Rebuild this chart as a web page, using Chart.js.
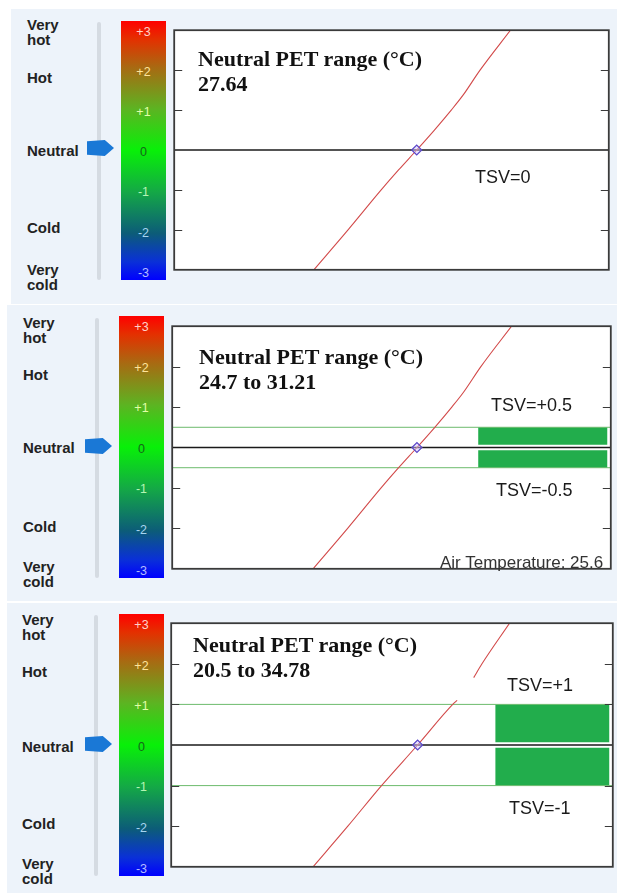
<!DOCTYPE html>
<html>
<head>
<meta charset="utf-8">
<script src="https://cdn.jsdelivr.net/npm/chart.js@4.4.1/dist/chart.umd.min.js"></script>
<style>
  body { margin: 0; width: 617px; height: 893px; background: #fff; position: relative; overflow: hidden;
         font-family: "Liberation Sans", Arial, sans-serif; }
  .panel { position: absolute; background: #edf3fa; }
  .slider { position: absolute; width: 4px; background: #d5dbe2; border-radius: 2px; }
  .arrow { position: absolute; width: 27px; height: 16px; background: #1a78d6;
           clip-path: polygon(0 8%, 66% 0, 100% 50%, 66% 100%, 0 92%); }
  .bar { position: absolute;
         background: linear-gradient(to bottom, #ff0000 0%, #e43000 7%, #a86a12 18%, #5cb422 34%,
                     #08f008 50%, #14a846 66%, #0c5c78 82%, #0a30d8 93%, #0000ff 100%); }
  .txt { position: absolute; white-space: pre; }
  canvas { position: absolute; }
</style>
</head>
<body>
<script>
// TSV scale shown on the colour bar
const scaleTicks = ["+3", "+2", "+1", "0", "-1", "-2", "-3"];
const sensation = ["Very\nhot", "Hot", "Neutral", "Cold", "Very\ncold"];

// PET (°C) vs thermal sensation vote curve
const curvePet = [8.7, 15.0, 21.1, 24.3, 27.64, 30.9, 34.0, 36.1, 39.3, 44.9];
const curveTsv = [-3, -2, -1, -0.5, 0, 0.5, 1, 1.36, 2, 3];
// third panel: same curve but with a break in the line
const curve3Pet = [8.7, 15.0, 21.1, 27.64, 34.0, 34.8, 36.5, 37.8, 39.3, 44.3];
const curve3Tsv = [-3, -2, -1, 0, 1, 1.1, null, 1.66, 2, 3];

// one entry per panel
const bandTsv = [0, 0.5, 1];
const neutralPet = [27.64, 27.64, 27.64];
const rangeLow = [27.64, 24.7, 20.5];
const rangeHigh = [27.64, 31.21, 34.78];
const airTemperature = [null, 25.6, null];

const xMin = -17, xMax = 63;
const frameTicks = [2, 1, -1, -2];
const tickColors = ["#ffd2c8", "#ffe49a", "#e2ffa8", "#16661a", "#b4f5b4", "#a6d4f0", "#b4bcff"];

const panels = [
  { bg: [11, 9, 606, 295], frame: [171, 27, 441, 246], bar: [121, 21, 45, 259], slider: [97, 22, 258],
    arrow: [87, 140], labelX: 27, labelBase: [30, 83, 156, 233, 275],
    title: [198, 67, 92], tsvText: [[475, 183]], blockX: null },
  { bg: [7, 305, 610, 296], frame: [169, 323, 445, 249], bar: [119, 316, 45, 262], slider: [95, 318, 260],
    arrow: [85, 438], labelX: 23, labelBase: [328, 380, 453, 532, 572],
    title: [199, 365, 390], tsvText: [[491, 411], [496, 496]], air: [440, 568], blockX: [38.8, 62.4] },
  { bg: [7, 603, 610, 290], frame: [168, 620, 448, 250], bar: [119, 614, 45, 262], slider: [94, 615, 261],
    arrow: [85, 736], labelX: 22, labelBase: [625, 677, 752, 829, 869],
    title: [193, 653, 678], tsvText: [[507, 691], [509, 814]], blockX: [41.7, 62.4] }
];

function addBox(cls, x, y, w, h) {
  const d = document.createElement("div");
  d.className = cls;
  d.style.left = x + "px";
  d.style.top = y + "px";
  if (w != null) d.style.width = w + "px";
  if (h != null) d.style.height = h + "px";
  document.body.appendChild(d);
  return d;
}

function addText(str, x, base, size, font, color, center) {
  const d = document.createElement("div");
  d.className = "txt";
  d.textContent = str;
  d.style.left = x + "px";
  d.style.top = (base - 0.85 * size) + "px";
  d.style.font = font.replace("SIZE", size + "px");
  d.style.lineHeight = size + "px";
  d.style.color = color;
  if (center) d.style.transform = "translateX(-50%)";
  document.body.appendChild(d);
}

const framePlugin = {
  id: "frame",
  beforeDatasetsDraw(chart) {
    const { ctx, chartArea: a } = chart;
    ctx.save();
    ctx.fillStyle = "#fff";
    ctx.fillRect(a.left, a.top, a.right - a.left, a.bottom - a.top);
    ctx.restore();
  },
  afterDatasetsDraw(chart) {
    const { ctx, chartArea: a, scales: { y } } = chart;
    ctx.save();
    ctx.strokeStyle = "#3a3a3a";
    ctx.lineWidth = 1.2;
    frameTicks.forEach(v => {
      const py = Math.round(y.getPixelForValue(v)) + 0.5;
      ctx.beginPath();
      ctx.moveTo(a.left, py); ctx.lineTo(a.left + 8, py);
      ctx.moveTo(a.right - 8, py); ctx.lineTo(a.right, py);
      ctx.stroke();
    });
    ctx.lineWidth = 1.8;
    ctx.strokeRect(a.left, a.top, a.right - a.left, a.bottom - a.top);
    ctx.restore();
  }
};

panels.forEach((p, i) => {
  addBox("panel", p.bg[0], p.bg[1], p.bg[2], p.bg[3]);

  // sensation labels on the left
  sensation.forEach((s, k) => {
    s.split("\n").forEach((line, j) => {
      addText(line, p.labelX, p.labelBase[k] + j * 15, 15, "bold SIZE 'Liberation Sans', Arial", "#222");
    });
  });

  addBox("slider", p.slider[0], p.slider[1], null, p.slider[2]);
  addBox("arrow", p.arrow[0], p.arrow[1]);

  // colour bar with its tick labels
  const [bx, by, bw, bh] = p.bar;
  addBox("bar", bx, by, bw, bh);
  const step = (bh - 18.6) / 6;
  scaleTicks.forEach((t, k) => {
    addText(t, bx + bw / 2, by + 11.3 + k * step + 4.5, 12.5, "SIZE 'Liberation Sans', Arial", tickColors[k], true);
  });

  // chart canvas, padded so the chart area is the frame
  const pad = 3;
  const [fx, fy, fw, fh] = p.frame;
  const canvas = document.createElement("canvas");
  canvas.width = fw + pad * 2;
  canvas.height = fh + pad * 2;
  canvas.style.left = (fx - pad) + "px";
  canvas.style.top = (fy - pad) + "px";
  document.body.appendChild(canvas);

  const pets = i === 2 ? curve3Pet : curvePet;
  const tsvs = i === 2 ? curve3Tsv : curveTsv;
  const curve = pets.map((x, k) => ({ x: x, y: tsvs[k] }));
  const band = bandTsv[i];

  const datasets = [
    { data: [{ x: neutralPet[i], y: 0 }], showLine: false, pointStyle: "rectRot", pointRadius: 5,
      borderColor: "#5a46c8", backgroundColor: "rgba(210,200,255,0.5)", pointBorderWidth: 1.2 },
    { data: curve, borderColor: "#d24a4a", borderWidth: 1.1, pointRadius: 0, cubicInterpolationMode: "monotone" },
    { data: [{ x: xMin, y: 0 }, { x: xMax, y: 0 }], borderColor: "#1a1a1a", borderWidth: 1.6, pointRadius: 0 }
  ];
  if (band > 0) {
    datasets.push(
      { data: [{ x: xMin, y: band }, { x: xMax, y: band }], borderColor: "#6dbb6d", borderWidth: 1, pointRadius: 0 },
      { data: [{ x: xMin, y: -band }, { x: xMax, y: -band }], borderColor: "#6dbb6d", borderWidth: 1, pointRadius: 0 },
      { data: [{ x: p.blockX[0], y: band }, { x: p.blockX[1], y: band }], fill: { value: 0.07 },
        backgroundColor: "#22ad4c", borderWidth: 0, pointRadius: 0 },
      { data: [{ x: p.blockX[0], y: -band }, { x: p.blockX[1], y: -band }], fill: { value: -0.07 },
        backgroundColor: "#22ad4c", borderWidth: 0, pointRadius: 0 }
    );
  }

  new Chart(canvas, {
    type: "line",
    data: { datasets: datasets },
    options: {
      responsive: false,
      animation: false,
      layout: { padding: pad },
      scales: {
        x: { type: "linear", min: xMin, max: xMax, display: false },
        y: { type: "linear", min: -3, max: 3, display: false }
      },
      plugins: { legend: { display: false }, tooltip: { enabled: false } }
    },
    plugins: [framePlugin]
  });

  // annotations
  const serif = "bold SIZE 'Liberation Serif', 'Times New Roman', serif";
  addText("Neutral PET range (°C)", p.title[0], p.title[1], 22, serif, "#111");
  const rangeStr = rangeLow[i] === rangeHigh[i] ? String(rangeLow[i]) : rangeLow[i] + " to " + rangeHigh[i];
  addText(rangeStr, p.title[0], p.title[2], 22, serif, "#111");

  const sans = "SIZE 'Liberation Sans', Arial, sans-serif";
  if (band === 0) {
    addText("TSV=0", p.tsvText[0][0], p.tsvText[0][1], 18, sans, "#1a1a1a");
  } else {
    addText("TSV=+" + band, p.tsvText[0][0], p.tsvText[0][1], 18, sans, "#1a1a1a");
    addText("TSV=-" + band, p.tsvText[1][0], p.tsvText[1][1], 18, sans, "#1a1a1a");
  }
  if (airTemperature[i] != null) {
    addText("Air Temperature: " + airTemperature[i], p.air[0], p.air[1], 17, sans, "#333");
  }
});
</script>
</body>
</html>
